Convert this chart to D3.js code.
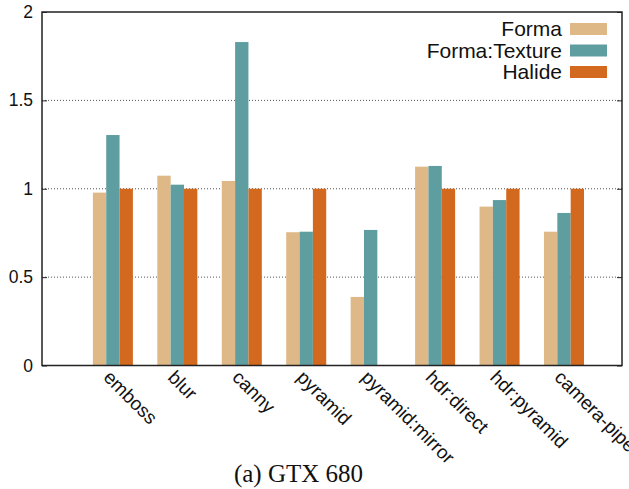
<!DOCTYPE html>
<html><head><meta charset="utf-8">
<script src="https://cdn.jsdelivr.net/npm/d3@7"></script>
<style>body{margin:0;background:#fff}svg{display:block}</style>
</head><body>
<svg id="c" width="629" height="489"></svg>
<script>
const categories = ["emboss","blur","canny","pyramid","pyramid:mirror","hdr:direct","hdr:pyramid","camera-pipe"];
const seriesNames = ["Forma","Forma:Texture","Halide"];
const forma =        [0.978, 1.074, 1.044, 0.754, 0.388, 1.125, 0.899, 0.757];
const formaTexture = [1.304, 1.023, 1.830, 0.757, 0.767, 1.129, 0.936, 0.863];
const halide =       [1.0,   1.0,   1.0,   1.0,   null,  1.0,   1.0,   1.0];
const yTicks = [0, 0.5, 1, 1.5, 2];
const yTickLabels = ["0","0.5","1","1.5","2"];
const colors = ["#deb887","#5f9ea0","#d2691e"];
const caption = "(a) GTX 680";

const svg = d3.select("#c");
const L = 42, R = 622, T = 12, B = 365.5;
const x = d3.scaleLinear().domain([-1.1, 7.9]).range([L, R]);
const y = d3.scaleLinear().domain([0, 2]).range([B, T]);
const barW = (x(1) - x(0)) * 0.207;
const series = [forma, formaTexture, halide];

// gridlines
svg.append("g").selectAll("line").data(yTicks.filter(t => t > 0 && t < 2)).join("line")
  .attr("x1", L).attr("x2", R).attr("y1", d => y(d)).attr("y2", d => y(d))
  .attr("stroke", "#555").attr("stroke-width", 1).attr("stroke-dasharray", "1,2");

// bars
series.forEach((vals, si) => {
  svg.append("g").selectAll("rect").data(vals.map((v, i) => ({v, i})).filter(d => d.v != null)).join("rect")
    .attr("x", d => x(d.i) + (si - 1.5) * barW)
    .attr("width", barW)
    .attr("y", d => y(d.v))
    .attr("height", d => y(0) - y(d.v))
    .attr("fill", colors[si]);
});

// axes
const yAxisL = d3.axisLeft(y).tickValues(yTicks).tickFormat((d, i) => yTickLabels[i]).tickSizeInner(-5).tickSizeOuter(0).tickPadding(9);
const gL = svg.append("g").attr("transform", `translate(${L},0)`).call(yAxisL);
gL.selectAll("text").attr("font-family", "Liberation Sans, Arial, sans-serif").attr("font-size", 17.5).attr("fill", "#111");
gL.selectAll("line").attr("stroke", "#222");
gL.select(".domain").remove();
const yAxisR = d3.axisRight(y).tickValues(yTicks).tickSizeInner(-5).tickSizeOuter(0).tickFormat("");
const gR = svg.append("g").attr("transform", `translate(${R},0)`).call(yAxisR);
gR.selectAll("line").attr("stroke", "#222");
gR.select(".domain").remove();

// border
svg.append("rect").attr("x", L).attr("y", T).attr("width", R - L).attr("height", B - T)
  .attr("fill", "none").attr("stroke", "#222").attr("stroke-width", 1.5);

// x labels
const xAxis = d3.axisBottom(x).tickValues(d3.range(categories.length)).tickFormat(i => categories[i]).tickSize(0);
const gX = svg.append("g").attr("transform", `translate(0,${B})`).call(xAxis);
gX.select(".domain").remove();
gX.selectAll("text")
  .attr("font-family", "Liberation Sans, Arial, sans-serif").attr("font-size", 19).attr("fill", "#111")
  .attr("text-anchor", "start").attr("dy", null).attr("y", 0)
  .attr("transform", "translate(-11,13) rotate(45)");

// legend
const lg = svg.append("g").selectAll("g").data(seriesNames).join("g")
  .attr("transform", (d, i) => `translate(0,${29 + i * 21.5})`);
lg.append("text").attr("x", 562).attr("y", 0).attr("dy", "0.35em").attr("text-anchor", "end")
  .attr("font-family", "Liberation Sans, Arial, sans-serif").attr("font-size", 21).attr("fill", "#111")
  .text(d => d);
lg.append("rect").attr("x", 570).attr("y", -6).attr("width", 37).attr("height", 12)
  .attr("fill", (d, i) => colors[i]);

// caption
svg.append("text").attr("x", 298.5).attr("y", 482).attr("text-anchor", "middle")
  .attr("font-family", "Liberation Serif, Times New Roman, serif").attr("font-size", 25).attr("fill", "#111")
  .text(caption);
</script>
</body></html>
